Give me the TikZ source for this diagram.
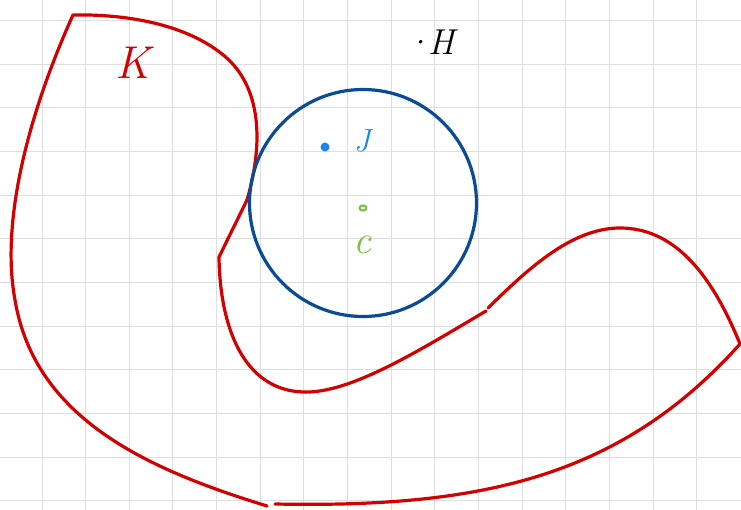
\documentclass[tikz,border=0pt]{standalone}
\usepackage{fontspec}
\usepackage{xcolor}
\definecolor{kred}{RGB}{212,0,0}
\definecolor{hblue}{RGB}{10,75,150}
\definecolor{jblue}{RGB}{25,135,240}
\definecolor{cgreen}{RGB}{125,195,65}
\definecolor{gridgray}{RGB}{222,222,222}
\tikzset{
  gridline/.style={gridgray, line width=1pt},
  kline/.style={kred, line width=3.2pt},
}
\begin{document}
\begin{tikzpicture}[x=1pt, y=-1pt, line cap=round, line join=round]
      \useasboundingbox (0,0) rectangle (741,510);
      \fill[white] (0,0) rectangle (741,510);
      \foreach \i in {0,...,15} \draw[gridline] ({42+43.65*\i},0) -- ({42+43.65*\i},510);
      \foreach \j in {0,...,11} \draw[gridline] (0,{20.5+43.65*\j}) -- (741,{20.5+43.65*\j});
      \draw[kline] (275,504) .. controls (480,508) and (620,478) .. (740,344);
      \draw[kline] (740,344) .. controls (710,270) and (672,228) .. (620,228)
                             .. controls (570,228) and (525,272) .. (488,308);
      \draw[kline] (486,311) .. controls (420,350) and (350,394) .. (303,392)
                             .. controls (245,390) and (220,330) .. (219,257)
                             -- (247,200);
      \draw[kline] (247,200) .. controls (266,135) and (258,82) .. (222,54)
                             .. controls (182,22) and (120,14) .. (73,15)
                             .. controls (30,110) and (0,220) .. (15,300)
                             .. controls (35,420) and (150,470) .. (267,506);
      \draw[hblue, line width=3.2pt] (363,203) circle [radius=113.5];
      \fill[jblue] (325,147) circle [radius=4.5];
      \draw[cgreen, line width=2.2pt] (363,208) ellipse [x radius=3.5, y radius=2.5];
      \node[kred, font=\fontsize{46}{46}\selectfont\itshape] (K) at (133,63) {K};
      \node[font=\fontsize{36}{36}\selectfont\itshape] (H) at (430,42) {·\kern-3pt H};
      \node[jblue, font=\fontsize{32}{32}\selectfont\itshape] (J) at (362,141) {J};
      \node[cgreen, font=\fontsize{40}{40}\selectfont\itshape] (c) at (362,245) {c};
    \end{tikzpicture}
\end{document}
